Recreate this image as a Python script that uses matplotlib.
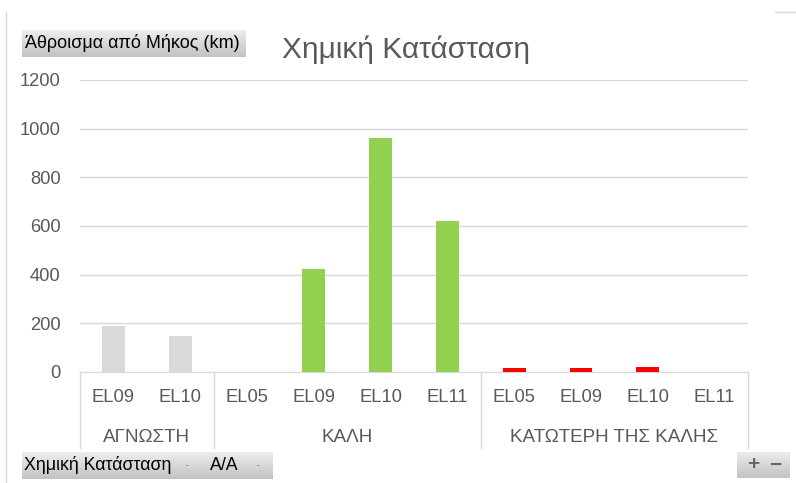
import matplotlib
matplotlib.use("Agg")
import matplotlib.pyplot as plt
import numpy as np

plt.rcParams["font.family"] = ["Liberation Sans", "DejaVu Sans"]

# pivot data: length (km) per chemical status and river basin district
group_names = ["ΑΓΝΩΣΤΗ", "ΚΑΛΗ", "ΚΑΤΩΤΕΡΗ ΤΗΣ ΚΑΛΗΣ"]
agnosti_codes = ["EL09", "EL10"]
agnosti_km = [187, 148]
kali_codes = ["EL05", "EL09", "EL10", "EL11"]
kali_km = [2, 423, 960, 620]
katoteri_codes = ["EL05", "EL09", "EL10", "EL11"]
katoteri_km = [16, 16, 22, 1]
group_colors = ["#d9d9d9", "#92d050", "#ff0000"]

W, H = 796, 483
TXT = "#595959"
GRID = "#d9d9d9"


def px_rect(x0, y0, x1, y1):
    return [x0 / W, 1 - y1 / H, (x1 - x0) / W, (y1 - y0) / H]


def button(fig, x0, y0, x1, y1):
    bax = fig.add_axes(px_rect(x0, y0, x1, y1))
    grad = np.linspace(0.93, 0.76, 50).reshape(-1, 1)
    bax.imshow(grad, cmap="gray", vmin=0, vmax=1, aspect="auto",
               extent=(0, 1, 0, 1), origin="upper")
    bax.set_xlim(0, 1)
    bax.set_ylim(0, 1)
    bax.axis("off")
    return bax


fig = plt.figure(figsize=(W / 100, H / 100), dpi=100)

# chart area border pieces
fig.add_artist(plt.Line2D([6 / W, 6 / W], [0, 1 - 12 / H], color=GRID, lw=1))
fig.add_artist(plt.Line2D([775 / W, 795 / W], [1 - 12 / H, 1 - 12 / H], color=GRID, lw=1))

ax = fig.add_axes(px_rect(80, 80, 748, 372))

codes = agnosti_codes + kali_codes + katoteri_codes
values = [agnosti_km, kali_km, katoteri_km]
group_codes = [agnosti_codes, kali_codes, katoteri_codes]

start = 0
bounds = [-0.5]
for name, gcodes, vals, col in zip(group_names, group_codes, values, group_colors):
    x = np.arange(start, start + len(gcodes))
    ax.bar(x, vals, width=0.34, color=col, zorder=3)
    ax.text(x.mean(), -0.223, name, transform=ax.get_xaxis_transform(),
            ha="center", va="center", fontsize=13.6, color=TXT)
    start += len(gcodes)
    bounds.append(start - 0.5)

for i, c in enumerate(codes):
    ax.text(i, -0.089, c, transform=ax.get_xaxis_transform(),
            ha="center", va="center", fontsize=13.2, color=TXT)

for b in bounds:
    ax.plot([b, b], [0, -0.26], transform=ax.get_xaxis_transform(),
            color=GRID, lw=1, clip_on=False)

ax.set_xlim(-0.5, len(codes) - 0.5)
ax.set_ylim(0, 1200)
ax.set_yticks(np.arange(0, 1201, 200))
ax.set_xticks([])
ax.tick_params(axis="y", length=0, labelsize=13.2, labelcolor=TXT, pad=14)
ax.grid(True, axis="y", color=GRID, lw=1, zorder=0)
for s in ["top", "right", "left"]:
    ax.spines[s].set_visible(False)
ax.spines["bottom"].set_color(GRID)

fig.text(406 / W, 1 - 50 / H, "Χημική Κατάσταση", ha="center", va="center",
         fontsize=21.5, color=TXT)

# pivot field buttons
b1 = button(fig, 22, 30, 245, 57)
b1.text(0.015, 0.5, "Άθροισμα από Μήκος (km)", ha="left", va="center",
        fontsize=13, color="black")

b2 = button(fig, 22, 452, 272, 479)
b2.text(0.01, 0.5, "Χημική Κατάσταση", ha="left", va="center",
        fontsize=12.8, color="black")
b2.text(0.66, 0.5, "-", ha="center", va="center", fontsize=6, color="#555555")
b2.text(0.81, 0.5, "A/A", ha="center", va="center", fontsize=12.8, color="black")
b2.text(0.945, 0.5, "-", ha="center", va="center", fontsize=6, color="#555555")

b3 = button(fig, 737, 452, 790, 478)
b3.text(0.3, 0.5, "+", ha="center", va="center", fontsize=15,
        color="#666666", fontweight="bold")
b3.text(0.72, 0.5, "−", ha="center", va="center", fontsize=15,
        color="#666666", fontweight="bold")

fig.savefig("out.png", dpi=100)
